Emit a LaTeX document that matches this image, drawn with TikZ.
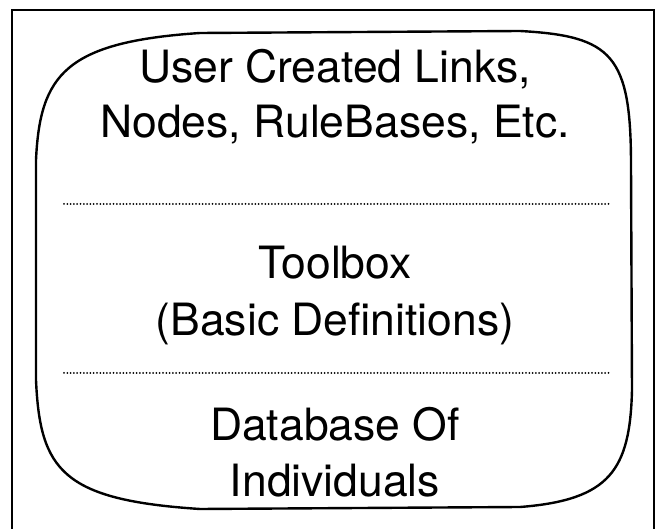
\documentclass[tikz,border=0pt]{standalone}
\usepackage{fontspec}
\setmainfont{TeX Gyre Heros}
\begin{document}
\begin{tikzpicture}[x=1pt,y=-1pt,
  label/.style={anchor=base,inner sep=0pt,font=\fontsize{44.5}{44.5}\selectfont},
  frame/.style={line width=2pt},
  screen/.style={line width=2.4pt,line join=round},
  divider/.style={line width=2pt,line cap=round,dash pattern=on 0pt off 3.3pt}]
\useasboundingbox (0,0) rectangle (657,529);

% open frame (no bottom edge)
\draw[frame] (12,529) -- (12,10) -- (654,10) -- (654,529);

% rounded screen outline
\draw[screen]
  (36,160) .. controls (40,75) and (65,42) .. (200,33)
  -- (520,31)
  .. controls (612,36) and (631,55) .. (631,165)
  -- (632,390)
  .. controls (630,470) and (610,500) .. (520,507)
  -- (200,509)
  .. controls (62,500) and (40,470) .. (36,380)
  -- cycle;

% text lines
\node[label] (l1) at (335,83)  {User Created Links,};
\node[label] (l2) at (335,138) {Nodes, RuleBases, Etc.};
\node[label] (l3) at (335,279) {Toolbox};
\node[label] (l4) at (335,336) {(Basic Definitions)};
\node[label] (l5) at (335,441) {Database Of};
\node[label] (l6) at (335,497) {Individuals};

% dotted dividers
\coordinate (d1a) at (64,204);
\coordinate (d1b) at (609,204);
\coordinate (d2a) at (64,373);
\coordinate (d2b) at (609,373);
\draw[divider] (d1a) -- (d1b);
\draw[divider] (d2a) -- (d2b);
\end{tikzpicture}
\end{document}
